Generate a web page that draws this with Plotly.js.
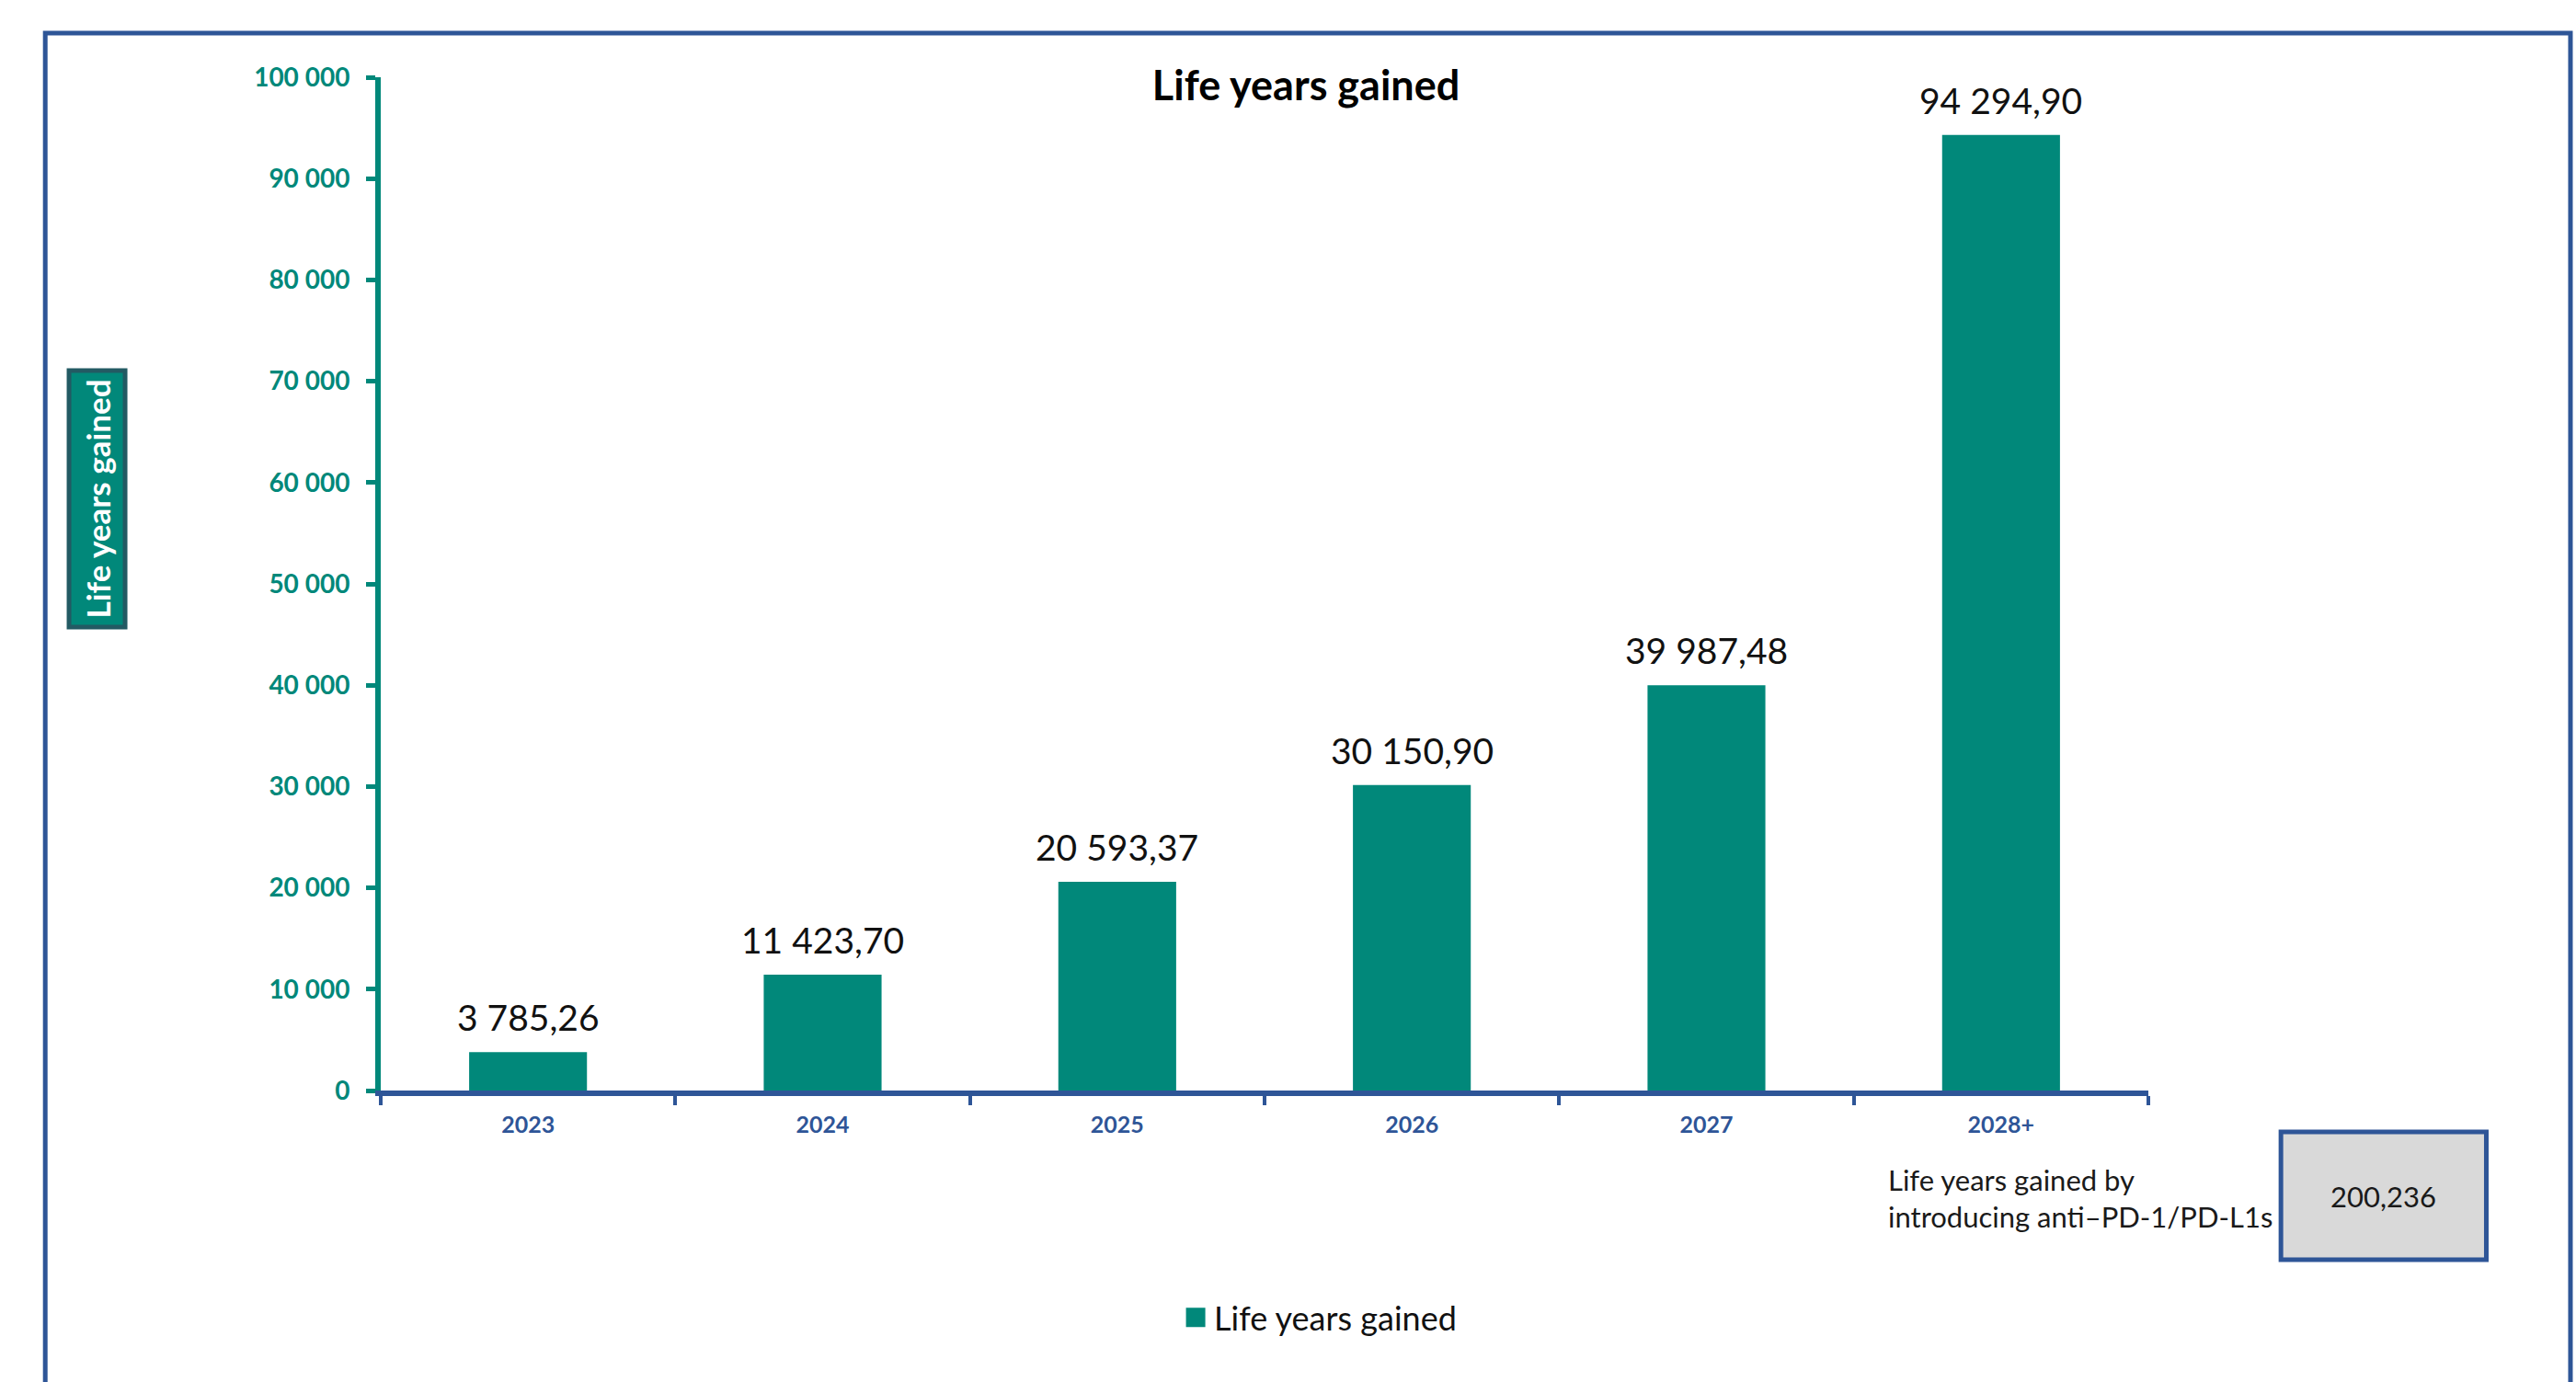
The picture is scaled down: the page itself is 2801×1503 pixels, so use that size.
<!DOCTYPE html>
<html>
<head>
<meta charset="utf-8">
<script src="https://cdn.plot.ly/plotly-3.0.1.min.js"></script>
<style>
  html, body { margin: 0; padding: 0; background: #ffffff; }
  #chart { width: 2801px; height: 1503px; }
</style>
</head>
<body>
<div id="chart"></div>
<script>
// ---- Data ----
const categories = ['2023', '2024', '2025', '2026', '2027', '2028+'];
const lifeYearsGained = [3785.26, 11423.70, 20593.37, 30150.90, 39987.48, 94294.90];
const seriesName = 'Life years gained';
const chartTitle = 'Life years gained';
const yAxisTitle = 'Life years gained';
const totalLabel = 'Life years gained by<br>introducing anti\u2013PD-1/PD-L1s';
const totalValue = '200,236';
const yTickValues = [0, 10000, 20000, 30000, 40000, 50000, 60000, 70000, 80000, 90000, 100000];

// ---- Style ----
const TEAL = '#01887A';
const BLUE = '#2E5597';
const FONT = 'Lato, "Open Sans", sans-serif';

function fmt(v) {
  const parts = v.toFixed(2).split('.');
  const intPart = parts[0].replace(/\B(?=(\d{3})+(?!\d))/g, '\u00a0');
  return intPart + ',' + parts[1];
}

const trace = {
  type: 'bar',
  name: seriesName,
  x: categories,
  y: lifeYearsGained,
  marker: { color: TEAL, line: { width: 0 } },
  hoverinfo: 'x+y',
  showlegend: true
};

// category index used as annotation x (numeric-looking category names would be read as indices)
const valueAnnotations = categories.map((c, i) => ({
  x: i, y: lifeYearsGained[i], xref: 'x', yref: 'y',
  text: fmt(lifeYearsGained[i]),
  showarrow: false, yanchor: 'bottom', yshift: 13,
  font: { family: FONT, size: 39, color: '#111111' }
}));

const layout = {
  width: 2801,
  height: 1503,
  paper_bgcolor: '#ffffff',
  plot_bgcolor: '#ffffff',
  separators: ', ',
  margin: { l: 414, r: 465, t: 84, b: 317, pad: 0 },
  font: { family: FONT },
  title: {
    text: '<b>' + chartTitle + '</b>',
    xref: 'container', x: 0.507, xanchor: 'center',
    yref: 'container', y: 1 - 93 / 1503, yanchor: 'middle',
    font: { family: FONT, size: 45, color: '#000000' }
  },
  bargap: 0.6,
  xaxis: {
    type: 'category',
    categoryorder: 'array', categoryarray: categories,
    range: [-0.5, categories.length - 0.5],
    showline: true, linecolor: BLUE, linewidth: 6,
    ticks: 'outside', tickson: 'boundaries', ticklen: 10, tickwidth: 4, tickcolor: BLUE,
    showgrid: false, zeroline: false,
    tickfont: { family: FONT, size: 25, color: BLUE, weight: 'bold' },
    ticklabelstandoff: 10,
    tickangle: 0,
    fixedrange: true
  },
  yaxis: {
    range: [0, 100000],
    tickvals: yTickValues,
    tickformat: ',d',
    showline: true, linecolor: TEAL, linewidth: 6,
    ticks: 'outside', ticklen: 10, tickwidth: 5, tickcolor: TEAL,
    showgrid: false, zeroline: false,
    tickfont: { family: FONT, size: 28, color: TEAL, weight: 'bold' },
    ticklabelstandoff: 12,
    fixedrange: true
  },
  legend: {
    orientation: 'h',
    x: 0.531, xanchor: 'center',
    y: -0.224, yanchor: 'middle',
    font: { family: FONT, size: 36, color: '#111111' },
    itemwidth: 30
  },
  shapes: [
    // outer frame
    { type: 'rect', xref: 'paper', yref: 'paper',
      x0: -0.1898, x1: 1.2388, y0: -0.32, y1: 1.0436,
      line: { color: BLUE, width: 5 }, fillcolor: 'rgba(0,0,0,0)', layer: 'below' },
    // total value box
    { type: 'rect', xref: 'paper', yref: 'paper',
      x0: 1.0750, x1: 1.1912, y0: -0.167, y1: -0.0408,
      line: { color: BLUE, width: 5 }, fillcolor: '#D9D9D9', layer: 'above' }
  ],
  annotations: valueAnnotations.concat([
    { // boxed y axis title
      xref: 'paper', yref: 'paper', x: -0.1605, y: 0.5835,
      text: '<b>' + yAxisTitle + '</b>', textangle: -90, showarrow: false,
      font: { family: FONT, size: 35, color: '#ffffff' },
      bgcolor: TEAL, bordercolor: '#235A63', borderwidth: 5, borderpad: 7,
      xanchor: 'center', yanchor: 'middle'
    },
    {
      xref: 'paper', yref: 'paper', x: 0.8515, y: -0.106,
      text: totalLabel, align: 'left', showarrow: false,
      xanchor: 'left', yanchor: 'middle',
      font: { family: FONT, size: 31, color: '#1a1a1a' }
    },
    {
      xref: 'paper', yref: 'paper', x: 1.1331, y: -0.104,
      text: totalValue, showarrow: false,
      xanchor: 'center', yanchor: 'middle',
      font: { family: FONT, size: 31, color: '#1a1a1a' }
    }
  ])
};

Plotly.newPlot('chart', [trace], layout, { displayModeBar: false, staticPlot: true }).then(() => {
  // enlarge the legend swatch to match the reference square (keep Plotly's own offset)
  document.querySelectorAll('#chart .legend .legendpoints path').forEach(p => {
    p.setAttribute('d', 'M10.5,10.5H-10.5V-10.5H10.5Z');
  });
});
</script>
</body>
</html>
